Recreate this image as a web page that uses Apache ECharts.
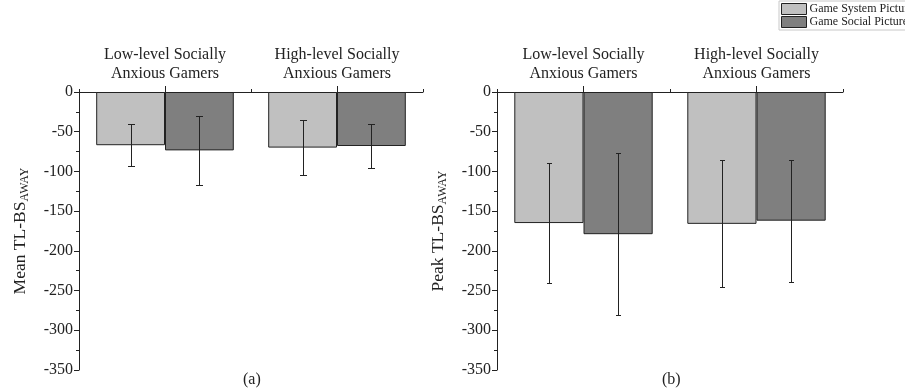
<!DOCTYPE html>
<html>
<head>
<meta charset="utf-8">
<script src="https://cdn.jsdelivr.net/npm/echarts@6/dist/echarts.min.js"></script>
<style>
  html, body { margin: 0; padding: 0; background: #fff; }
  #chart { width: 905px; height: 392px; }
</style>
</head>
<body>
<div id="chart"></div>
<script>
// Group labels along the top axis
const categories = ['Low-level Socially\nAnxious Gamers', 'High-level Socially\nAnxious Gamers'];
const seriesNames = ['Game System Pictures', 'Game Social Pictures'];

// (a) Mean TL-BS AWAY: means and error half-widths
const meanSystem = [-67, -70];
const meanSocial = [-73.5, -68];
const meanSystemErr = [26.5, 34.5];
const meanSocialErr = [43.5, 28];

// (b) Peak TL-BS AWAY: means and error half-widths
const peakSystem = [-165, -166];
const peakSocial = [-179, -162];
const peakSystemErr = [76, 80];
const peakSocialErr = [102, 77];

// Value axis range and tick step
const yMin = -350;
const yMax = 0;
const yStep = 50;

const FONT = "'Liberation Serif', 'Times New Roman', serif";
const INK = '#222';
const colSystem = '#c0c0c0';
const colSocial = '#7f7f7f';
const BAR_FRACTION = 0.8; // 20% category gap

function barSeries(name, idx, values, color) {
  return {
    name: name,
    type: 'bar',
    xAxisIndex: idx,
    yAxisIndex: idx,
    data: values,
    barGap: '0%',
    barCategoryGap: '20%',
    itemStyle: { color: color, borderColor: INK, borderWidth: 1 },
    silent: true
  };
}

function errorSeries(idx, means, errs, side, cap) {
  return {
    type: 'custom',
    xAxisIndex: idx,
    yAxisIndex: idx,
    silent: true,
    z: 10,
    encode: { x: 0, y: 1 },
    data: means.map((m, i) => [i, m, errs[i]]),
    renderItem: function (params, api) {
      const i = api.value(0), m = api.value(1), e = api.value(2);
      const band = api.size([1, 0])[0];
      const barW = band * BAR_FRACTION / 2;
      const x = Math.round(api.coord([i, m])[0] + side * barW / 2) + 0.5;
      const yTop = Math.round(api.coord([i, m + e])[1]) + 0.5;
      const yBot = Math.round(api.coord([i, m - e])[1]) + 0.5;
      const st = { stroke: INK, lineWidth: 1 };
      return {
        type: 'group',
        children: [
          { type: 'line', shape: { x1: x, y1: yTop, x2: x, y2: yBot }, style: st },
          { type: 'line', shape: { x1: x - cap, y1: yTop, x2: x + cap, y2: yTop }, style: st },
          { type: 'line', shape: { x1: x - cap, y1: yBot, x2: x + cap, y2: yBot }, style: st }
        ]
      };
    }
  };
}

function mainXAxis(grid) {
  return {
    type: 'category',
    gridIndex: grid,
    position: 'top',
    data: categories,
    axisLine: { show: true, onZero: false, lineStyle: { color: INK, width: 1 } },
    axisTick: { show: true, alignWithLabel: true, length: 6, lineStyle: { color: INK } },
    axisLabel: { fontFamily: FONT, fontSize: 16, lineHeight: 19, color: INK, margin: 9 },
    splitLine: { show: false }
  };
}

// Short ticks at the category boundaries
function boundaryXAxis(grid) {
  return {
    type: 'category',
    gridIndex: grid,
    position: 'top',
    data: categories,
    axisLine: { show: false },
    axisTick: { show: true, length: 3, lineStyle: { color: INK } },
    axisLabel: { show: false },
    splitLine: { show: false }
  };
}

function yAxisFor(grid, label) {
  return {
    type: 'value',
    gridIndex: grid,
    min: yMin,
    max: yMax,
    interval: yStep,
    name: '{a|' + label + '}{b|AWAY}',
    nameLocation: 'middle',
    nameRotate: 90,
    nameGap: 48,
    nameTextStyle: {
      color: INK,
      rich: {
        a: { fontFamily: FONT, fontSize: 17.5, color: INK },
        b: { fontFamily: FONT, fontSize: 12, color: INK, padding: [10, 0, 0, 0] }
      }
    },
    axisLine: { show: true, lineStyle: { color: INK, width: 1 } },
    axisTick: { show: true, length: 5, lineStyle: { color: INK } },
    minorTick: { show: true, splitNumber: 2, length: 3, lineStyle: { color: INK } },
    splitLine: { show: false },
    minorSplitLine: { show: false },
    axisLabel: { fontFamily: FONT, fontSize: 16, color: INK, margin: 6 }
  };
}

const chart = echarts.init(document.getElementById('chart'), null, { renderer: 'canvas' });

chart.setOption({
  backgroundColor: '#fff',
  animation: false,
  grid: [
    { left: 79, top: 92, width: 344, height: 278 },
    { left: 497, top: 92, width: 346, height: 278 }
  ],
  xAxis: [mainXAxis(0), mainXAxis(1), boundaryXAxis(0), boundaryXAxis(1)],
  yAxis: [yAxisFor(0, 'Mean TL-BS'), yAxisFor(1, 'Peak TL-BS')],
  legend: {
    data: seriesNames,
    orient: 'vertical',
    left: 779,
    top: 1,
    icon: 'rect',
    itemWidth: 25,
    itemHeight: 11,
    itemGap: 1,
    padding: [2, 40, 2, 2],
    borderColor: '#c8c8c8',
    borderWidth: 1,
    selectedMode: false,
    itemStyle: { borderColor: INK, borderWidth: 1 },
    textStyle: { fontFamily: FONT, fontSize: 12, color: INK, padding: [0, 0, 0, -2] }
  },
  series: [
    barSeries(seriesNames[0], 0, meanSystem, colSystem),
    barSeries(seriesNames[1], 0, meanSocial, colSocial),
    barSeries(seriesNames[0], 1, peakSystem, colSystem),
    barSeries(seriesNames[1], 1, peakSocial, colSocial),
    errorSeries(0, meanSystem, meanSystemErr, -1, 3.5),
    errorSeries(0, meanSocial, meanSocialErr, 1, 3.5),
    errorSeries(1, peakSystem, peakSystemErr, -1, 2.5),
    errorSeries(1, peakSocial, peakSocialErr, 1, 2.5)
  ],
  graphic: [
    { type: 'text', left: 243, top: 372, style: { text: '(a)', font: '16px ' + FONT, fill: INK } },
    { type: 'text', left: 662, top: 372, style: { text: '(b)', font: '16px ' + FONT, fill: INK } }
  ]
});
</script>
</body>
</html>
